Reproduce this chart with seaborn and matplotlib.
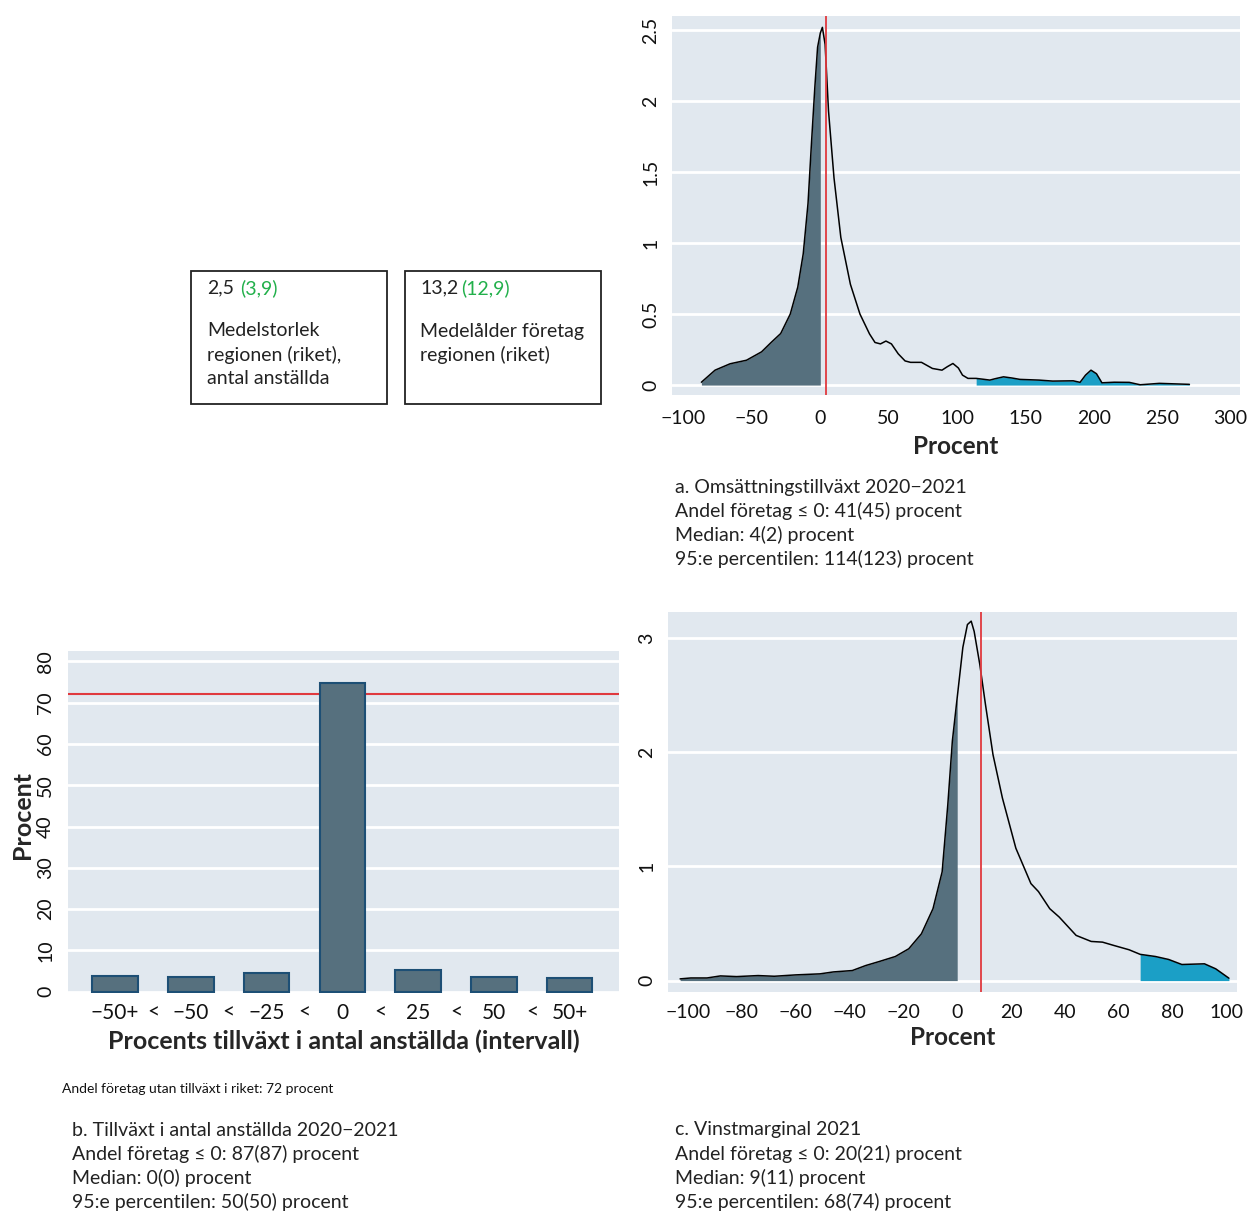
import numpy as np
import pandas as pd
import seaborn as sns
import matplotlib.pyplot as plt
from matplotlib.patches import Rectangle

# ---- data ----
# a. Omsättningstillväxt 2020-2021 (density curve)
oms_x = [-87, -77, -66, -54, -43, -36, -29, -22, -16.5, -12.5, -9, -6.5, -4, -2, 0,
         1.5, 3.5, 6, 10, 15, 22, 29, 36, 40, 44, 48, 52, 57, 62, 66, 74, 82, 89,
         93, 97, 101, 104, 108, 114, 120, 124, 128, 134, 140, 146, 160, 170, 185,
         190, 194, 198, 202, 206, 215, 226, 234, 248, 270]
oms_y = [0.02, 0.105, 0.15, 0.175, 0.234, 0.30, 0.363, 0.50, 0.69, 0.925, 1.28, 1.70,
         2.10, 2.38, 2.48, 2.52, 2.40, 1.93, 1.46, 1.04, 0.71, 0.50, 0.36, 0.30, 0.29,
         0.31, 0.29, 0.22, 0.17, 0.16, 0.16, 0.117, 0.105, 0.13, 0.152, 0.12, 0.07,
         0.047, 0.047, 0.04, 0.035, 0.045, 0.058, 0.05, 0.04, 0.035, 0.028, 0.03,
         0.019, 0.07, 0.105, 0.08, 0.016, 0.02, 0.019, 0.002, 0.012, 0.005]
oms_median = 4
oms_p95 = 114

# b. Tillväxt i antal anställda (bars)
anst_kat = ["−50+", "−50", "−25", "0", "25", "50", "50+"]
anst_proc = [3.7, 3.5, 4.6, 74.8, 5.2, 3.6, 3.3]
anst_riket = 72

# c. Vinstmarginal 2021 (density curve)
vinst_x = [-103, -99, -93, -88, -82, -74, -68, -60, -51, -46, -39, -34, -29, -23, -18,
           -13.3, -9, -5.6, -3.5, -1.8, 0, 2.1, 3.8, 5.2, 6.3, 8.4, 10.5, 13.3, 16.8,
           21.8, 27.4, 30.2, 34.4, 37.9, 44.2, 49.8, 54, 58.2, 63.9, 68, 73.7, 78.6,
           83.5, 91.9, 96.1, 101]
vinst_y = [0.015, 0.023, 0.023, 0.041, 0.035, 0.044, 0.038, 0.05, 0.059, 0.076, 0.088,
           0.132, 0.167, 0.211, 0.279, 0.41, 0.63, 0.953, 1.54, 2.10, 2.48, 2.92, 3.12,
           3.15, 3.06, 2.77, 2.42, 1.98, 1.60, 1.16, 0.85, 0.78, 0.63, 0.557, 0.396,
           0.343, 0.337, 0.308, 0.27, 0.23, 0.211, 0.185, 0.141, 0.147, 0.103, 0.021]
vinst_median = 9
vinst_p95 = 68

captions_a = ["a. Omsättningstillväxt 2020−2021", "Andel företag ≤ 0: 41(45) procent",
              "Median: 4(2) procent", "95:e percentilen: 114(123) procent"]
captions_b = ["b. Tillväxt i antal anställda 2020−2021", "Andel företag ≤ 0: 87(87) procent",
              "Median: 0(0) procent", "95:e percentilen: 50(50) procent"]
captions_c = ["c. Vinstmarginal 2021", "Andel företag ≤ 0: 20(21) procent",
              "Median: 9(11) procent", "95:e percentilen: 68(74) procent"]

BG = "#e1e8ef"
DARK = "#56707e"
CYAN = "#1b9fc6"
RED = "#e0393e"
GREEN = "#22b04b"

sns.set_theme(style="white", rc={"axes.facecolor": BG})
plt.rcParams['font.family'] = ['Lato', 'DejaVu Sans']

W, H = 1251, 1213
fig = plt.figure(figsize=(W / 100, H / 100), dpi=100)


def box(x0, y0, x1, y1):
    return [x0 / W, 1 - y1 / H, (x1 - x0) / W, (y1 - y0) / H]


def ftext(x, y, s, **kw):
    fig.text(x / W, 1 - y / H, s, va="center", **kw)


def style_axes(ax, yticks, ylabels, xpad=10.5, size=14):
    for s in ax.spines.values():
        s.set_visible(False)
    ax.set_yticks(yticks)
    ax.set_yticklabels(ylabels, rotation=90, va="center")
    ax.tick_params(axis="both", length=0, labelsize=size, colors="#111111")
    ax.tick_params(axis="y", pad=9)
    ax.tick_params(axis="x", pad=xpad)
    ax.yaxis.grid(True, color="white", lw=2)
    ax.xaxis.grid(False)
    ax.set_axisbelow(True)


def density_panel(ax, xs, ys, median, p95, xpad=5):
    df = pd.DataFrame({"x": xs, "y": ys})
    lo = df[df.x <= 0]
    hi = df[df.x >= p95]
    ax.fill_between(lo.x, 0, lo.y, color=DARK, lw=0)
    ax.fill_between(hi.x, 0, hi.y, color=CYAN, lw=0)
    sns.lineplot(data=df, x="x", y="y", ax=ax, color="black", lw=1.1, sort=False)
    ax.axvline(median, color=RED, lw=1.3)
    ax.set_ylabel("")
    ax.set_xlabel("Procent", fontsize=17.5, fontweight="bold", labelpad=xpad)


# ---- panel a ----
ax_a = fig.add_axes(box(672, 16, 1240, 395))
density_panel(ax_a, oms_x, oms_y, oms_median, oms_p95, xpad=6)
ax_a.set_xlim(-108.5, 307)
ax_a.set_ylim(-0.07, 2.6)
ax_a.set_xticks([-100, -50, 0, 50, 100, 150, 200, 250, 300])
ax_a.set_xticklabels(["−100", "−50", "0", "50", "100", "150", "200", "250", "300"])
style_axes(ax_a, [0, 0.5, 1, 1.5, 2, 2.5], ["0", "0.5", "1", "1.5", "2", "2.5"])

# ---- panel c ----
ax_c = fig.add_axes(box(668, 612, 1237, 992))
density_panel(ax_c, vinst_x, vinst_y, vinst_median, vinst_p95, xpad=3)
ax_c.set_xlim(-107.5, 104)
ax_c.set_ylim(-0.1, 3.23)
ax_c.set_xticks(list(range(-100, 101, 20)))
ax_c.set_xticklabels(["−100", "−80", "−60", "−40", "−20", "0", "20", "40", "60", "80", "100"])
style_axes(ax_c, [0, 1, 2, 3], ["0", "1", "2", "3"], xpad=9)

# ---- panel b ----
ax_b = fig.add_axes(box(68, 651, 619, 993))
ax_b.axhline(anst_riket, color=RED, lw=1.5, zorder=1.5)
sns.barplot(x=anst_kat, y=anst_proc, ax=ax_b, color=DARK, saturation=1,
            width=0.6, edgecolor="#1d4f75", linewidth=1.5, zorder=2)
ax_b.set_xlim(-0.62, 6.65)
ax_b.set_ylim(-0.3, 82.5)
ticks, labels = [], []
for i, k in enumerate(anst_kat):
    ticks.append(i)
    labels.append(k)
    if i < len(anst_kat) - 1:
        ticks.append(i + 0.5)
        labels.append("<")
ax_b.set_xticks(ticks)
ax_b.set_xticklabels(labels)
style_axes(ax_b, list(range(0, 81, 10)), [str(v) for v in range(0, 81, 10)], xpad=7, size=15)
ax_b.tick_params(axis="y", pad=10, labelsize=14)
ax_b.set_ylabel("Procent", fontsize=18, fontweight="bold", labelpad=3)
ax_b.yaxis.set_label_coords(-0.062, 0.52)
ax_b.set_xlabel("Procents tillväxt i antal anställda (intervall)", fontsize=18,
                fontweight="bold", labelpad=5)

# ---- info boxes ----
for x0, x1 in [(191, 387), (405, 601)]:
    fig.add_artist(Rectangle((x0 / W, 1 - 404 / H), (x1 - x0) / W, 133 / H,
                             transform=fig.transFigure, fill=False, ec="#222222", lw=1.3))
ftext(207, 288, "2,5", fontsize=14, color="#222222")
ftext(240, 288, "(3,9)", fontsize=14, color=GREEN)
for i, s in enumerate(["Medelstorlek", "regionen (riket),", "antal anställda"]):
    ftext(207, 331 + 24 * i, s, fontsize=14, color="#222222")
ftext(420, 288, "13,2", fontsize=14, color="#222222")
ftext(461, 288, "(12,9)", fontsize=14, color=GREEN)
for i, s in enumerate(["Medelålder företag", "regionen (riket)"]):
    ftext(420, 331 + 24 * i, s, fontsize=14, color="#222222")

# ---- captions ----
for i, s in enumerate(captions_a):
    ftext(675, 487 + 24 * i, s, fontsize=14, color="#222222")
for i, s in enumerate(captions_b):
    ftext(72, 1130 + 24 * i, s, fontsize=14, color="#222222")
for i, s in enumerate(captions_c):
    ftext(675, 1130 + 24 * i, s, fontsize=14, color="#222222")
ftext(62, 1089, "Andel företag utan tillväxt i riket: 72 procent", fontsize=10,
      color="#111111")

fig.savefig("out.png", dpi=100)
